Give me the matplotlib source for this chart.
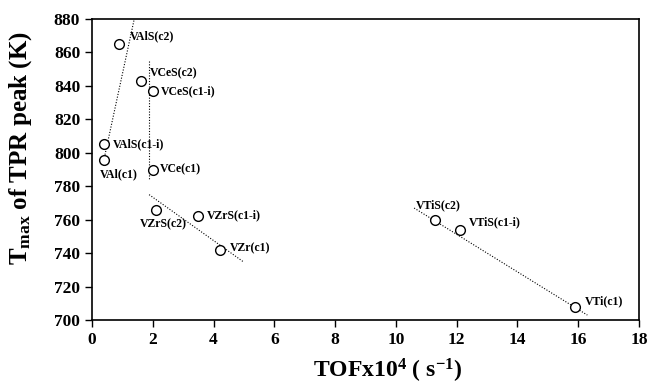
import matplotlib
matplotlib.use("Agg")
import matplotlib.pyplot as plt

# TOF (x10^4 s^-1) and Tmax (K) for each catalyst
names = ['VAlS(c2)', 'VCeS(c2)', 'VCeS(c1-i)', 'VAlS(c1-i)', 'VAl(c1)', 'VCe(c1)',
         'VZrS(c2)', 'VZrS(c1-i)', 'VZr(c1)', 'VTiS(c2)', 'VTiS(c1-i)', 'VTi(c1)']
tof = [0.9, 1.6, 2.0, 0.4, 0.4, 2.0, 2.1, 3.5, 4.2, 11.3, 12.1, 15.9]
tmax = [865, 843, 837, 805, 796, 790, 766, 762, 742, 760, 754, 708]
# label offsets in pixels (dx, dy)
label_dx = [11, 9, 8, 9, -4, 7, -16, 9, 10, -20, 9, 10]
label_dy = [8, 8, 0, 0, -15, 0, -15, 1, 2, 14, 7, 5]

# dotted trend lines (endpoints)
trend_x = [[0.37, 1.45], [1.88, 1.88], [1.88, 4.97], [10.6, 16.3]]
trend_y = [[794, 885], [855, 784], [775, 735], [767, 703]]

plt.rcParams['font.family'] = 'Liberation Serif'
plt.rcParams['font.weight'] = 'bold'
plt.rcParams['mathtext.fontset'] = 'custom'
plt.rcParams['mathtext.rm'] = 'Liberation Serif:bold'
plt.rcParams['mathtext.bf'] = 'Liberation Serif:bold'
plt.rcParams['mathtext.it'] = 'Liberation Serif:bold'
plt.rcParams['mathtext.default'] = 'bf'

fig = plt.figure(figsize=(6.51, 3.88), dpi=100)
ax = fig.add_axes([0.1413, 0.175, 0.8403, 0.776])

for xs, ys in zip(trend_x, trend_y):
    ax.plot(xs, ys, color='black', linestyle=(0, (1, 1.5)), linewidth=0.8)

ax.plot(tof, tmax, 'o', markersize=7, markerfacecolor='white',
        markeredgecolor='black', markeredgewidth=1.0, zorder=3)

for n, x, y, dx, dy in zip(names, tof, tmax, label_dx, label_dy):
    ax.annotate(n, (x, y), xytext=(dx, dy), textcoords='offset pixels',
                fontsize=8.5, fontweight='bold', ha='left', va='center')

ax.set_xlim(0, 18)
ax.set_ylim(700, 880)
ax.set_xticks(range(0, 19, 2))
ax.set_yticks(range(700, 881, 20))
ax.tick_params(direction='out', length=5, width=1, labelsize=12.5)
for lab in ax.get_xticklabels() + ax.get_yticklabels():
    lab.set_fontweight('bold')
for s in ax.spines.values():
    s.set_linewidth(1.2)

ax.set_xlabel('TOFx10$^{4}$ ( s$^{-1}$)', fontsize=17, fontweight='bold', va='center')
ax.set_ylabel('T$_{max}$ of TPR peak (K)', fontsize=18, fontweight='bold', va='center')
ax.xaxis.set_label_coords(0.541, -0.17)
ax.yaxis.set_label_coords(-0.13, 0.57)

fig.savefig('out.png', dpi=100)
